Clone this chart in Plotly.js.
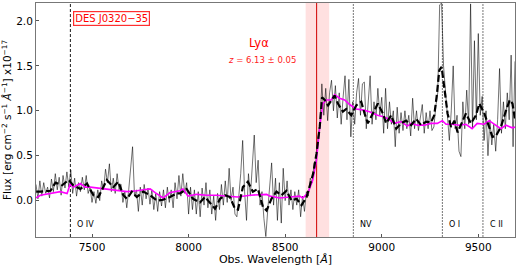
<!DOCTYPE html>
<html>
<head>
<meta charset="utf-8">
<script src="https://cdn.plot.ly/plotly-3.0.1.min.js"></script>
<style>
  html, body { margin: 0; padding: 0; background: #fff; }
  #chart { width: 519px; height: 266px; }
</style>
</head>
<body>
<div id="chart"></div>
<script>
// observed spectrum, 10 A pixels starting at 7210 A
const waveStart = 7210;
const waveStep = 10;
const fluxObs = [
  0.18, 0.02, 0.22, 0.05, 0.20, 0.08, 0.15, 0.03, 0.24, 0.10,
  0.30, 0.12, 0.26, 0.06, 0.28, 0.14, 0.32, 0.15, 0.34, 0.08,
  0.25, 0.05, 0.20, 0.10, 0.26, 0.12, 0.28, 0.08, 0.15, -0.02,
  0.10, -0.03, 0.12, 0.00, 0.22, 0.12, 0.35, 0.20, 0.41, 0.10,
  0.25, 0.08, 0.30, 0.12, 0.18, -0.02, 0.10, -0.08, 0.12, 0.35,
  0.60, 0.05, 0.12, -0.12, 0.15, -0.05, 0.18, 0.02, 0.14, -0.04,
  0.12, -0.10, 0.08, -0.12, 0.10, -0.06, 0.12, -0.08, 0.15, -0.02,
  0.12, -0.08, 0.20, 0.02, 0.28, 0.05, 0.30, 0.08, 0.20, -0.15,
  0.15, -0.10, 0.12, -0.15, 0.10, -0.18, 0.14, -0.05, 0.20, -0.08,
  0.12, -0.15, 0.05, -0.22, 0.08, -0.10, 0.18, -0.05, 0.22, -0.02,
  0.36, 0.00, 0.15, -0.15, -0.18, 0.05, 0.30, 0.67, 0.10, -0.22,
  0.30, 0.05, 0.45, 0.73, 0.20, 0.45, -0.05, 0.10, -0.20, -0.40,
  -0.10, 0.15, 0.42, -0.05, 0.25, -0.22, 0.20, -0.25, 0.36, 0.00,
  0.22, -0.05, 0.12, -0.10, 0.10, -0.05, 0.12, -0.18, 0.05, -0.12,
  0.10, 0.05, 0.25, 0.20, 0.42, 0.45, 0.70, 0.85, 1.30, 0.95,
  1.25, 0.89, 1.20, 1.34, 1.00, 1.28, 0.92, 1.20, 0.85, 1.15,
  1.39, 0.90, 1.35, 0.71, 1.10, 0.85, 1.20, 1.36, 0.95, 1.30,
  1.32, 0.80, 1.05, 1.39, 0.85, 1.10, 0.90, 1.25, 0.95, 1.15,
  0.75, 1.25, 0.80, 1.10, 0.85, 1.00, 0.60, 1.04, 0.75, 0.98,
  0.78, 1.00, 0.80, 0.95, 0.72, 1.14, 0.80, 1.00, 0.78, 0.95,
  1.07, 0.75, 0.98, 0.80, 1.00, 0.78, 0.82, 1.05, 1.20, 2.18,
  2.20, 1.50, 1.20, 0.90, 0.67, 1.00, 1.50, 0.80, 0.95, 0.55,
  0.49, 1.10, 0.80, 1.23, 0.85, 2.19, 0.80, 1.78, 0.90, 1.86,
  0.95, 1.16, 0.67, 1.00, 0.50, 0.90, 0.62, 0.85, 0.55, 0.90,
  1.47, 0.75, 1.10, 0.80, 1.20, 0.90, 1.62, 0.60, 1.55
];

// smoothed spectrum (dashed black)
const smoothWave = [
  7211, 7233, 7285, 7311, 7345, 7379, 7403, 7440, 7474, 7507,
  7533, 7558, 7577, 7610, 7636, 7662, 7681, 7706, 7732, 7765,
  7801, 7836, 7868, 7904, 7939, 7956, 7990, 8023, 8059, 8085,
  8111, 8137, 8163, 8189, 8214, 8240, 8256, 8281, 8307, 8333,
  8359, 8385, 8404, 8429, 8455, 8481, 8507, 8533, 8559, 8585,
  8611, 8628, 8645, 8662, 8679, 8691, 8705, 8722, 8739, 8756,
  8773, 8799, 8816, 8842, 8868, 8894, 8911, 8928, 8954, 8980,
  9006, 9023, 9049, 9075, 9100, 9126, 9152, 9178, 9204, 9230,
  9255, 9272, 9286, 9298, 9310, 9324, 9341, 9359, 9376, 9393,
  9419, 9436, 9462, 9488, 9505, 9531, 9556, 9573, 9591, 9617,
  9643, 9663, 9677, 9691
];
const smoothFlux = [
  0.10, 0.10, 0.11, 0.20, 0.17, 0.23, 0.17, 0.13, 0.19, 0.06,
  0.04, 0.15, 0.23, 0.15, 0.21, 0.06, 0.02, 0.10, 0.04, 0.10,
  0.06, 0.00, 0.01, 0.04, 0.08, 0.08, 0.13, 0.02, -0.02, 0.04,
  -0.03, -0.09, 0.02, 0.06, 0.04, -0.09, -0.10, 0.15, 0.21, 0.10,
  0.13, -0.07, -0.11, 0.02, 0.10, 0.06, 0.11, 0.00, 0.02, -0.05,
  0.04, 0.17, 0.30, 0.52, 0.82, 1.15, 1.12, 1.06, 1.12, 1.17,
  1.08, 0.99, 1.02, 0.95, 1.06, 1.10, 0.97, 0.86, 0.97, 1.08,
  0.97, 0.86, 0.95, 0.80, 0.86, 0.89, 0.84, 0.91, 0.84, 0.88,
  0.87, 0.95, 1.19, 1.45, 1.49, 1.23, 0.97, 0.82, 0.89, 0.76,
  0.89, 0.97, 0.86, 0.95, 1.08, 0.97, 0.82, 0.71, 0.72, 0.82,
  1.00, 1.12, 1.08, 0.89
];

// quasar template (magenta)
const templWave = [
  7210, 7233, 7336, 7371, 7388, 7403, 7440, 7465, 7491, 7577,
  7629, 7681, 7732, 7765, 7801, 7827, 7868, 7904, 7956, 7971,
  7997, 8042, 8094, 8145, 8216, 8252, 8319, 8404, 8421, 8473,
  8524, 8575, 8591, 8617, 8643, 8662, 8679, 8695, 8713, 8739,
  8756, 8782, 8808, 8834, 8868, 8901, 8937, 8978, 9014, 9040,
  9066, 9100, 9133, 9152, 9185, 9221, 9255, 9288, 9314, 9333,
  9365, 9401, 9436, 9468, 9494, 9530, 9556, 9582, 9617, 9643,
  9676, 9695
];
const templFlux = [
  0.03, 0.06, 0.10, 0.08, 0.19, 0.15, 0.19, 0.15, 0.15, 0.13,
  0.12, 0.10, 0.11, 0.12, 0.13, 0.09, 0.03, 0.09, 0.11, 0.13,
  0.05, 0.07, 0.06, 0.06, 0.05, 0.04, 0.06, 0.07, 0.05, 0.03,
  0.04, 0.05, 0.03, 0.08, 0.23, 0.45, 0.82, 1.08, 1.12, 1.12,
  1.18, 1.14, 1.12, 1.07, 1.02, 1.01, 0.99, 0.95, 0.93, 0.90,
  0.86, 0.88, 0.83, 0.86, 0.84, 0.84, 0.86, 0.86, 0.89, 0.85,
  0.85, 0.84, 0.85, 0.80, 0.86, 0.85, 0.89, 0.85, 0.80, 0.84,
  0.81, 0.82
];

// emission lines at z = 6.13
const lineWaves = [7388, 8853, 9314, 9524];
const lineNames = ['O IV', 'NV', 'O I', 'C II'];
const lyaWave = 8663;
const lyaBand = [8606, 8728];

const wave = fluxObs.map((f, i) => waveStart + i * waveStep);
const font = 'DejaVu Sans, sans-serif';

const traces = [
  {
    x: wave, y: fluxObs, mode: 'lines', type: 'scatter',
    line: { color: 'rgba(0,0,0,0.55)', width: 1 },
    hoverinfo: 'skip'
  },
  {
    x: templWave, y: templFlux, mode: 'lines', type: 'scatter',
    line: { color: '#ff00ff', width: 1.6 },
    hoverinfo: 'skip'
  },
  {
    x: smoothWave, y: smoothFlux, mode: 'lines', type: 'scatter',
    line: { color: '#000000', width: 2.2, dash: '7px,3px' },
    hoverinfo: 'skip'
  }
];

const shapes = [
  {
    type: 'rect', xref: 'x', yref: 'paper', layer: 'below',
    x0: lyaBand[0], x1: lyaBand[1], y0: 0, y1: 1,
    fillcolor: 'rgba(255,0,0,0.12)', line: { width: 0 }
  },
  {
    type: 'line', xref: 'x', yref: 'paper', layer: 'below',
    x0: lyaWave, x1: lyaWave, y0: 0, y1: 1,
    line: { color: '#d00000', width: 1 }
  }
];
const annotations = [];
lineWaves.forEach((w, i) => {
  shapes.push({
    type: 'line', xref: 'x', yref: 'paper', layer: 'below',
    x0: w, x1: w, y0: 0, y1: 1,
    line: i === 0 ? { color: '#000', width: 0.9, dash: '3px,2px' }
                  : { color: '#777', width: 1, dash: '2px,1px' }
  });
  annotations.push({
    x: w + 25, y: -0.27, xref: 'x', yref: 'y',
    text: lineNames[i], showarrow: false, xanchor: 'left',
    font: { family: font, size: 8, color: '#000' }
  });
});

annotations.push({
  x: 7403, y: 2.03, xref: 'x', yref: 'y', xanchor: 'left',
  text: 'DES J0320\u221235', showarrow: false,
  font: { family: font, size: 10, color: '#ff0000' },
  bgcolor: '#ffffff', bordercolor: '#ff3030', borderwidth: 1.2, borderpad: 1
});
annotations.push({
  x: 8362, y: 1.76, xref: 'x', yref: 'y',
  text: 'Ly\u03b1', showarrow: false,
  font: { family: font, size: 11.5, color: '#ff0000' }
});
annotations.push({
  x: 8378, y: 1.57, xref: 'x', yref: 'y',
  text: '<i>z</i> = 6.13 \u00b1 0.05', showarrow: false,
  font: { family: font, size: 8.5, color: '#ff2020' }
});

const layout = {
  width: 519, height: 266,
  margin: { l: 36, r: 4, t: 3, b: 29 },
  paper_bgcolor: '#fff', plot_bgcolor: '#fff',
  showlegend: false,
  xaxis: {
    range: [7210, 9690],
    tickvals: [7500, 8000, 8500, 9000, 9500],
    ticks: 'inside', ticklen: 3, tickcolor: '#555',
    showgrid: false, zeroline: false,
    showline: true, mirror: true, linecolor: '#777', linewidth: 1,
    tickfont: { family: font, size: 10.5, color: '#000' },
    title: { text: 'Obs. Wavelength [<i>Å</i>]', standoff: 3,
             font: { family: font, size: 11, color: '#000' } }
  },
  yaxis: {
    range: [-0.405, 2.2],
    tickvals: [0, 0.5, 1.0, 1.5, 2.0],
    tickformat: '.1f',
    ticks: 'inside', ticklen: 3, tickcolor: '#555',
    showgrid: false, zeroline: false,
    showline: true, mirror: true, linecolor: '#777', linewidth: 1,
    tickfont: { family: font, size: 10.5, color: '#000' },
    title: { text: 'Flux [erg cm<sup>\u22122</sup> s<sup>\u22121</sup> <i>Å</i><sup>\u22121</sup>] x10<sup>\u221217</sup>',
             standoff: 3, font: { family: font, size: 10.5, color: '#000' } }
  },
  shapes: shapes,
  annotations: annotations
};

Plotly.newPlot('chart', traces, layout, { staticPlot: true, displayModeBar: false });
</script>
</body>
</html>
